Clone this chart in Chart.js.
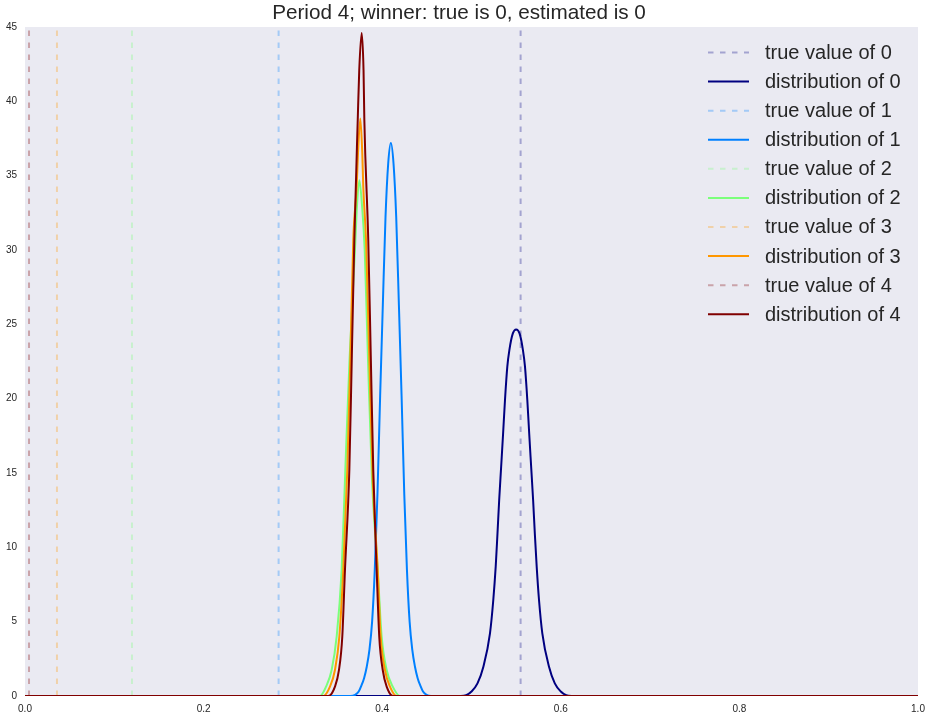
<!DOCTYPE html>
<html>
<head>
<meta charset="utf-8">
<script src="https://cdn.jsdelivr.net/npm/chart.js@4.4.1/dist/chart.umd.min.js"></script>
<style>
  body { margin: 0; background: #fff; }
  canvas { display: block; }
</style>
</head>
<body>
<canvas id="myChart" width="932" height="720"></canvas>
<script>
// data
var titleText = "Period 4; winner: true is 0, estimated is 0";
var seriesNames = ["0", "1", "2", "3", "4"];
var seriesColors = ["#000080", "#0080ff", "#7bff7b", "#ff9700", "#800000"];
var trueColors = ["rgba(0,0,128,0.3)", "rgba(0,128,255,0.3)", "rgba(123,255,123,0.3)", "rgba(255,151,0,0.3)", "rgba(128,0,0,0.3)"];
var trueValues = [0.555, 0.284, 0.1198, 0.0358, 0.0045];

var xTicks = [0, 0.2, 0.4, 0.6, 0.8, 1.0];
var yTicks = [0, 5, 10, 15, 20, 25, 30, 35, 40, 45];

var dist0X = [0, 0.488, 0.494, 0.500, 0.5067, 0.5133, 0.5207, 0.5244, 0.5271, 0.5291, 0.5310, 0.5332, 0.5354, 0.5375, 0.5401, 0.5424, 0.5463, 0.5500,
              0.5538, 0.5576, 0.5599, 0.5625, 0.5646, 0.5668, 0.5690, 0.5709, 0.5730, 0.5756, 0.5793, 0.5868, 0.5933, 0.600, 0.606, 0.612, 1];
var dist0Y = [0, 0, 0.05, 0.3, 0.85, 1.97, 4.22, 6.46, 8.70, 10.94, 13.18, 15.42, 17.67, 19.91, 22.15, 23.27, 24.39, 24.66,
              24.39, 23.27, 22.15, 19.91, 17.67, 15.42, 13.18, 10.94, 8.70, 6.46, 4.22, 1.97, 0.85, 0.3, 0.05, 0, 0];

var dist1X = [0, 0.3647, 0.3697, 0.3737, 0.3767, 0.3797, 0.3827, 0.3857, 0.3887, 0.3917, 0.3947, 0.3977, 0.4007, 0.4037, 0.4067, 0.4097,
              0.4127, 0.4157, 0.4187, 0.4217, 0.4247, 0.4277, 0.4307, 0.4337, 0.4367, 0.4397, 0.4427, 0.4457, 0.4497, 0.4547, 1];
var dist1Y = [0, 0, 0.08, 0.3, 0.7, 1.2, 1.97, 3.1, 5.0, 8.5, 13.6, 20.2, 26.3, 32.2, 35.8, 37.2,
              35.8, 32.2, 26.3, 20.2, 13.6, 8.5, 5.0, 3.1, 1.97, 1.2, 0.7, 0.3, 0.08, 0, 0];

var dist2X = [0, 0.3303, 0.3371, 0.3434, 0.3490, 0.3546, 0.3587, 0.3634, 0.3695, 0.3718, 0.3744, 0.3774, 0.3804, 0.3841, 0.3886, 0.3950, 0.3994, 0.4050, 0.4118, 0.4199, 1];
var dist2Y = [0, 0, 0.63, 1.75, 3.99, 8.47, 15.2, 22.6, 30.0, 33.0, 34.7, 33.0, 30.0, 22.6, 14.53, 8.47, 3.99, 1.75, 0.63, 0, 0];

var dist3X = [0, 0.3340, 0.3415, 0.3471, 0.3520, 0.3564, 0.3609, 0.3643, 0.3676, 0.3714, 0.3729, 0.3755, 0.3777, 0.3788, 0.3819, 0.3856, 0.3894, 0.3950, 0.3983, 0.4031, 0.4087, 0.4162, 1];
var dist3Y = [0, 0, 0.63, 1.75, 3.99, 8.47, 15.2, 22.6, 30.67, 34.25, 36.5, 38.85, 36.5, 34.25, 30.67, 22.6, 14.53, 8.47, 3.99, 1.75, 0.63, 0, 0];

var dist4X = [0, 0.3396, 0.3471, 0.3516, 0.3553, 0.3583, 0.3632, 0.3660, 0.3688, 0.3726, 0.3743, 0.3770, 0.3791, 0.3800, 0.3844, 0.3872, 0.3900, 0.3938, 0.3967, 0.4006, 0.4050, 0.4124, 1];
var dist4Y = [0, 0, 0.63, 1.75, 3.99, 8.47, 15.2, 22.9, 30.67, 38.74, 42.1, 44.6, 42.1, 38.74, 30.67, 22.9, 15.2, 8.47, 3.99, 1.75, 0.63, 0, 0];

var distX = [dist0X, dist1X, dist2X, dist3X, dist4X];
var distY = [dist0Y, dist1Y, dist2Y, dist3Y, dist4Y];

var FONT = "'Liberation Sans', Arial, sans-serif";
var TEXT = "#262626";
var yMax = yTicks[yTicks.length - 1];

function pairUp(xs, ys) {
    return xs.map(function (x, i) { return { x: x, y: ys[i] } })
}

var datasets = []
for (let i = 0; i < seriesNames.length; i++) {
    datasets.push({
        label: "true value of " + seriesNames[i],
        data: [{ x: trueValues[i], y: 0 }, { x: trueValues[i], y: yMax }],
        borderColor: trueColors[i],
        borderWidth: 2,
        borderDash: [5.5, 6.5],
        pointRadius: 0,
        fill: false
    })
    datasets.push({
        label: "distribution of " + seriesNames[i],
        data: pairUp(distX[i], distY[i]),
        borderColor: seriesColors[i],
        borderWidth: 2,
        cubicInterpolationMode: "monotone",
        pointRadius: 0,
        fill: false
    })
}
// later series on top, like matplotlib
datasets.forEach(function (d, i) { d.order = datasets.length - i })

const plotBackground = {
    id: "plotBackground",
    beforeDatasetsDraw(chart) {
        const { ctx, chartArea } = chart
        ctx.save()
        ctx.fillStyle = "#eaeaf2"
        ctx.fillRect(chartArea.left, chartArea.top, chartArea.right - chartArea.left, chartArea.bottom - chartArea.top)
        ctx.restore()
    }
}

// legend inside the plot, top right
const insideLegend = {
    id: "insideLegend",
    afterDraw(chart) {
        const ctx = chart.ctx
        ctx.save()
        ctx.font = "20px " + FONT
        ctx.textBaseline = "middle"
        ctx.textAlign = "left"
        chart.data.datasets.forEach(function (d, r) {
            let y = 52.5 + r * 29.08
            ctx.strokeStyle = d.borderColor
            ctx.lineWidth = 2
            ctx.setLineDash(d.borderDash || [])
            ctx.beginPath()
            ctx.moveTo(708, y)
            ctx.lineTo(749, y)
            ctx.stroke()
            ctx.fillStyle = TEXT
            ctx.fillText(d.label, 765, y + 1)
        })
        ctx.restore()
    }
}

var chart = new Chart("myChart", {
    type: "line",
    data: { datasets: datasets },
    plugins: [plotBackground, insideLegend],
    options: {
        responsive: false,
        animation: false,
        layout: { padding: { left: 0, right: 14, top: 0, bottom: 0 } },
        plugins: {
            legend: { display: false },
            tooltip: { enabled: false },
            title: {
                display: true,
                text: titleText,
                color: TEXT,
                font: { family: FONT, size: 20.7, weight: "normal", lineHeight: 1.16 },
                padding: { top: 1, bottom: 2 }
            }
        },
        scales: {
            x: {
                type: "linear",
                min: 0,
                max: 1,
                afterFit: function (s) { s.height = 24 },
                afterBuildTicks: function (s) { s.ticks = xTicks.map(function (v) { return { value: v } }) },
                grid: { display: false, drawTicks: false },
                border: { display: false },
                ticks: {
                    color: TEXT,
                    font: { family: FONT, size: 10 },
                    padding: 7,
                    maxRotation: 0,
                    callback: function (v) { return v.toFixed(1) }
                }
            },
            y: {
                type: "linear",
                min: 0,
                max: yMax,
                afterFit: function (s) { s.width = 25 },
                afterBuildTicks: function (s) { s.ticks = yTicks.map(function (v) { return { value: v } }) },
                grid: { display: false, drawTicks: false },
                border: { display: false },
                ticks: {
                    color: TEXT,
                    font: { family: FONT, size: 10 },
                    padding: 8,
                    callback: function (v) { return String(v) }
                }
            }
        }
    }
});
</script>
</body>
</html>
